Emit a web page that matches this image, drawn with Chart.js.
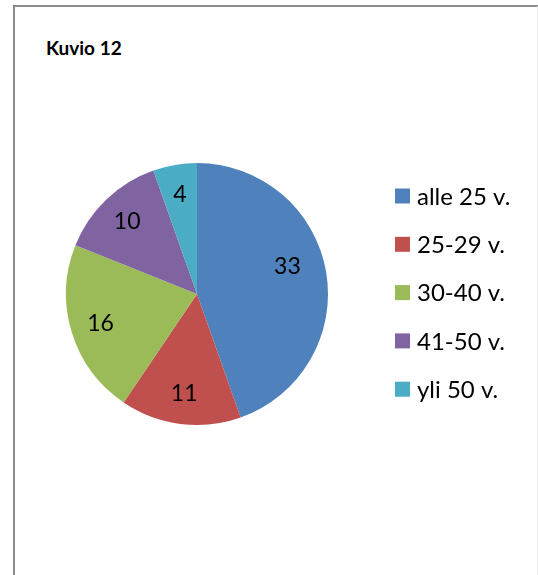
<!DOCTYPE html>
<html lang="fi">
<head>
  <meta charset="UTF-8" />
  <title>Kuvio 12</title>
  <script src="https://cdn.jsdelivr.net/npm/chart.js"></script>
  <style>
    * { margin: 0; padding: 0; box-sizing: border-box; }
    body {
      width: 538px;
      height: 575px;
      background: #fff;
      position: relative;
      overflow: hidden;
      font-family: 'Lato', sans-serif;
    }
    /* frame of the chart object */
    .frame {
      position: absolute;
      left: 13px;
      top: 5px;
      width: 525px;
      height: 580px;
      border-left: 2px solid #8a8a8a;
      border-top: 2px solid #8a8a8a;
      border-right: 1px solid #ececec;
    }
    .title {
      position: absolute;
      left: 46px;
      top: 36px;
      font-size: 19px;
      font-weight: 700;
      color: #000;
    }
    #chart {
      position: absolute;
      left: 0;
      top: 0;
    }
  </style>
</head>
<body>
  <div class="frame"></div>
  <div class="title">Kuvio 12</div>
  <canvas id="chart" width="538" height="575"></canvas>

  <script>
    // age groups and counts
    const categories = ['alle 25 v.', '25-29 v.', '30-40 v.', '41-50 v.', 'yli 50 v.'];
    const counts = [33, 11, 16, 10, 4];
    const colors = ['#4F81BD', '#C0504D', '#9BBB59', '#8064A2', '#4BACC6'];

    // values written inside the slices
    const sliceLabels = {
      id: 'sliceLabels',
      afterDatasetsDraw(chart) {
        const ctx = chart.ctx;
        const meta = chart.getDatasetMeta(0);
        ctx.save();
        ctx.font = '23px Lato';
        ctx.fillStyle = '#000';
        ctx.textAlign = 'center';
        ctx.textBaseline = 'middle';
        meta.data.forEach((arc, i) => {
          const p = arc.getProps(['x', 'y', 'startAngle', 'endAngle', 'outerRadius'], true);
          // the big slice gets its label pulled a bit toward the top like the original
          const mid = (p.startAngle + p.endAngle) / 2 - (i === 0 ? 0.12 : 0);
          const r = p.outerRadius * (i === 0 ? 0.72 : 0.77);
          ctx.fillText(chart.data.datasets[0].data[i], p.x + Math.cos(mid) * r, p.y + Math.sin(mid) * r);
        });
        ctx.restore();
      }
    };

    // legend on the right, one row per category
    const sideLegend = {
      id: 'sideLegend',
      afterDraw(chart) {
        const ctx = chart.ctx;
        const ds = chart.data.datasets[0];
        ctx.save();
        ctx.font = '24px Lato';
        ctx.textBaseline = 'middle';
        chart.data.labels.forEach((label, i) => {
          const cy = 196 + i * 48.3;
          ctx.fillStyle = ds.backgroundColor[i];
          ctx.fillRect(395, cy - 7.5, 15, 15);
          ctx.fillStyle = '#000';
          ctx.fillText(label, 417, cy + 1);
        });
        ctx.restore();
      }
    };

    new Chart(document.getElementById('chart'), {
      type: 'pie',
      data: {
        labels: categories,
        datasets: [{
          data: counts,
          backgroundColor: colors,
          borderWidth: 0
        }]
      },
      options: {
        responsive: false,
        animation: false,
        layout: {
          padding: { left: 66, top: 163, right: 210, bottom: 150 }
        },
        plugins: {
          legend: { display: false },
          tooltip: { enabled: false }
        }
      },
      plugins: [sliceLabels, sideLegend]
    });
  </script>
</body>
</html>
